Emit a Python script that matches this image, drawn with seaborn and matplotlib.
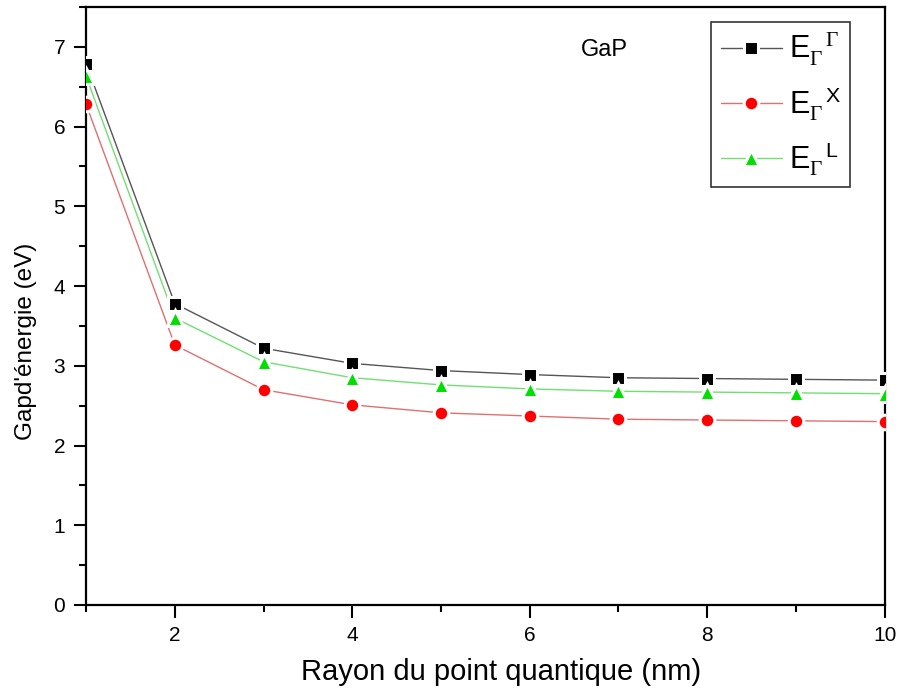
import matplotlib
matplotlib.use("Agg")
import matplotlib.pyplot as plt
from matplotlib.lines import Line2D
from matplotlib.ticker import MultipleLocator
import seaborn as sns
import pandas as pd

# Quantum dot radius (nm) and band-gap energies (eV) for GaP
radius = [1, 2, 3, 4, 5, 6, 7, 8, 9, 10]
e_gamma = [6.79, 3.78, 3.22, 3.03, 2.94, 2.89, 2.85, 2.84, 2.83, 2.82]
e_x = [6.28, 3.26, 2.70, 2.51, 2.41, 2.37, 2.33, 2.32, 2.31, 2.30]
e_l = [6.63, 3.60, 3.05, 2.85, 2.76, 2.71, 2.68, 2.67, 2.66, 2.65]

labels = [r"E$_{\Gamma}^{\ \ \ \Gamma}$",
          r"E$_{\Gamma}^{\ \ \ \mathsf{X}}$",
          r"E$_{\Gamma}^{\ \ \ \mathsf{L}}$"]
line_colors = ["#555555", "#e07070", "#70e070"]
marker_colors = ["#000000", "#ff0000", "#00e000"]
markers = ["s", "o", "^"]
marker_sizes = [10, 10.5, 12]

sns.set_theme(style="white")
plt.rcParams["font.family"] = ["Liberation Sans", "DejaVu Sans"]
plt.rcParams["mathtext.fontset"] = "custom"
plt.rcParams["mathtext.rm"] = "Liberation Serif"
plt.rcParams["mathtext.it"] = "Liberation Serif:italic"
plt.rcParams["mathtext.sf"] = "Liberation Sans"
plt.rcParams["text.color"] = "black"
plt.rcParams["axes.labelcolor"] = "black"
plt.rcParams["xtick.color"] = "black"
plt.rcParams["ytick.color"] = "black"

fig = plt.figure(figsize=(9, 6.95), dpi=100)
ax = fig.add_axes([0.0956, 0.1295, 0.8874, 0.8605])

series = [e_gamma, e_x, e_l]
for vals, lc, mc, mk, ms in zip(series, line_colors, marker_colors,
                                markers, marker_sizes):
    df = pd.DataFrame({"r": radius, "E": vals})
    sns.lineplot(data=df, x="r", y="E", ax=ax, color=lc, linewidth=1.0,
                 zorder=2)
    ax.plot(df["r"], df["E"], linestyle="none", marker=mk, markersize=ms,
            markerfacecolor=mc, markeredgecolor="white", markeredgewidth=2.2,
            zorder=3)

ax.set_xlim(1, 10)
ax.set_ylim(0, 7.5)
ax.set_xticks([2, 4, 6, 8, 10])
ax.xaxis.set_minor_locator(MultipleLocator(1))
ax.yaxis.set_major_locator(MultipleLocator(1))
ax.yaxis.set_minor_locator(MultipleLocator(0.5))
ax.tick_params(axis="both", which="major", direction="out", length=9,
               width=1.5, color="black", labelcolor="black", labelsize=15,
               pad=6, bottom=True, left=True, top=False, right=False)
ax.tick_params(axis="both", which="minor", direction="out", length=5,
               width=1.5, color="black", bottom=True, left=True,
               top=False, right=False)
for sp in ax.spines.values():
    sp.set_color("black")
    sp.set_linewidth(1.6)

ax.set_xlabel("Rayon du point quantique (nm)", fontsize=21, color="black")
ax.set_ylabel("Gapd'énergie (eV)", fontsize=17.5, color="black")
ax.xaxis.set_label_coords(0.52, -0.088)
ax.yaxis.set_label_coords(-0.062, 0.44)

ax.text(6.84, 6.96, "GaP", fontsize=17, ha="center", va="center",
        color="black")

handles = []
for lc, mc, mk, ms in zip(line_colors, marker_colors, markers, marker_sizes):
    handles.append(Line2D([0], [0], color=lc, linewidth=1.0, marker=mk,
                          markersize=ms, markerfacecolor=mc,
                          markeredgecolor="white", markeredgewidth=2.2))
leg = ax.legend(handles, labels, loc="upper right",
                bbox_to_anchor=(0.957, 0.975), fontsize=22,
                frameon=True, fancybox=False, handlelength=2.0,
                handletextpad=0.25, labelspacing=0.55, borderpad=0.3,
                borderaxespad=0.0, labelcolor="black")
leg.get_frame().set_edgecolor("black")
leg.get_frame().set_linewidth(1.2)

fig.savefig("out.png", dpi=100)
